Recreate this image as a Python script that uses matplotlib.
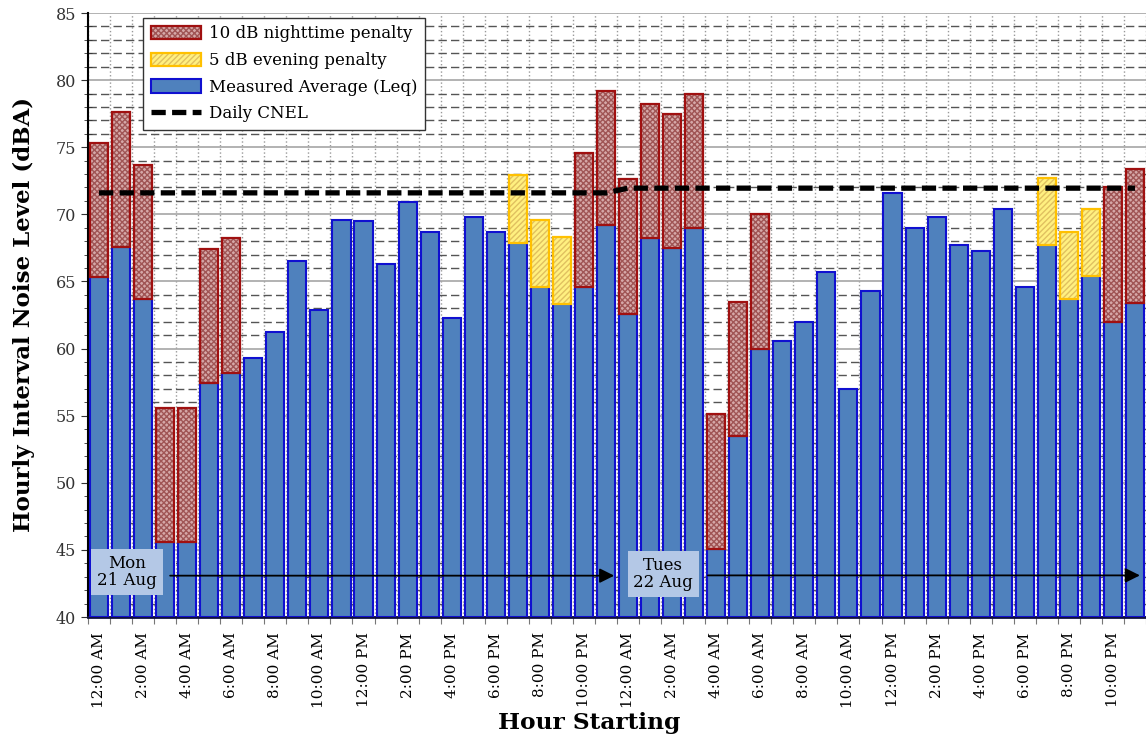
import matplotlib
matplotlib.use("Agg")
import matplotlib.pyplot as plt
import numpy as np
from matplotlib.patches import Patch
from matplotlib.lines import Line2D

# hourly Leq, Mon 21 Aug 00:00 through Tue 22 Aug 23:00
leq = [65.3, 67.6, 63.7, 45.6, 45.6, 57.4, 58.2, 59.3, 61.2, 66.5, 62.9, 69.6,
       69.5, 66.3, 70.9, 68.7, 62.3, 69.8, 68.7, 67.9, 64.6, 63.3, 64.6, 69.2,
       62.6, 68.2, 67.5, 69.0, 45.1, 53.5, 60.0, 60.6, 62.0, 65.7, 57.0, 64.3,
       71.6, 69.0, 69.8, 67.7, 67.3, 70.4, 64.6, 67.7, 63.7, 65.4, 62.0, 63.4]

# CNEL weighting per hour of the day
night_pen_day = [10, 10, 10, 10, 10, 10, 10, 0, 0, 0, 0, 0,
                 0, 0, 0, 0, 0, 0, 0, 0, 0, 0, 10, 10]
even_pen_day = [0, 0, 0, 0, 0, 0, 0, 0, 0, 0, 0, 0,
                0, 0, 0, 0, 0, 0, 0, 5, 5, 5, 0, 0]
night_pen = night_pen_day * 2
even_pen = even_pen_day * 2

cnel_daily = [71.6, 71.95]
cnel = [cnel_daily[0]] * 24 + [cnel_daily[1]] * 24

hour_labels = ["12:00 AM", "2:00 AM", "4:00 AM", "6:00 AM", "8:00 AM", "10:00 AM",
               "12:00 PM", "2:00 PM", "4:00 PM", "6:00 PM", "8:00 PM", "10:00 PM"]

plt.rcParams['font.family'] = ['DejaVu Serif']
plt.rcParams['hatch.linewidth'] = 1.0

fig = plt.figure(figsize=(11.46, 7.42), dpi=100)
ax = fig.add_axes([88 / 1146, 1 - 617 / 742, 1 - 88 / 1146, (617 - 13) / 742])

x = np.arange(len(leq))
leq = np.array(leq)
night_pen = np.array(night_pen)
even_pen = np.array(even_pen)
w = 0.82

blue_face, blue_edge = '#4F81BD', '#1010D0'
red_face, red_hatch, red_edge = '#D6A8A8', '#A05555', '#A01010'
yel_face, yel_hatch, yel_edge = '#FFF080', '#E0C060', '#FFC000'

ax.bar(x, leq - 40, bottom=40, width=w, color=blue_face, edgecolor=blue_edge,
       linewidth=1.5, zorder=3)

# penalty segments stacked on top of the measured level
n = night_pen > 0
ax.bar(x[n], night_pen[n], bottom=leq[n], width=w, color=red_face,
       edgecolor=red_hatch, hatch='xxxxxx', linewidth=0, zorder=3)
ax.bar(x[n], night_pen[n], bottom=leq[n], width=w, color='none',
       edgecolor=red_edge, linewidth=1.6, zorder=3)
e = even_pen > 0
ax.bar(x[e], even_pen[e], bottom=leq[e], width=w, color=yel_face,
       edgecolor=yel_hatch, hatch='//////', linewidth=0, zorder=3)
ax.bar(x[e], even_pen[e], bottom=leq[e], width=w, color='none',
       edgecolor=yel_edge, linewidth=1.6, zorder=3)

ax.plot(x, cnel, color='black', lw=3.8, dashes=(2.7, 1.2), zorder=4)

ax.set_xlim(-0.5, 47.5)
ax.set_ylim(40, 85)

ax.set_yticks(np.arange(40, 86, 5))
ax.set_yticks(np.arange(40, 86, 1), minor=True)
ax.set_xticks(np.arange(-0.5, 48, 1))
ax.set_xticklabels([])
ax.set_xticks(x, minor=True)
ax.set_xticklabels([hour_labels[(i % 24) // 2] if i % 2 == 0 else '' for i in x],
                   minor=True, rotation=90, fontsize=11)
ax.tick_params(axis='y', which='major', labelsize=11.5, direction='out', length=5,
               colors='#333333')
ax.tick_params(axis='y', which='minor', direction='inout', length=6, color='#333333')
ax.tick_params(axis='x', which='major', direction='out', length=5, color='#777777')
ax.tick_params(axis='x', which='minor', direction='in', length=3, pad=11)

ax.grid(which='major', axis='y', color='#A6A6A6', lw=1.2, zorder=0)
ax.grid(which='minor', axis='y', color='#555555', lw=1, dashes=(6, 3), zorder=0)
ax.grid(which='major', axis='x', color='#999999', lw=1, ls=':', zorder=0)
ax.set_axisbelow(True)

for s in ['top', 'right']:
    ax.spines[s].set_visible(False)
ax.spines['left'].set_linewidth(1.5)
ax.spines['bottom'].set_color('#101040')
ax.spines['bottom'].set_linewidth(2)

ax.set_ylabel('Hourly Interval Noise Level (dBA)', fontsize=16.5, fontweight='bold')
ax.yaxis.set_label_coords(-0.05, 0.5)
ax.set_xlabel('Hour Starting', fontsize=16.8, fontweight='bold')
ax.xaxis.set_label_coords((589 - 88) / 1058, -0.157)

# day markers
box = dict(boxstyle='square,pad=0.35', facecolor='#B4C8E6', edgecolor='none')
ax.annotate('', xy=(23.5, 43.08), xytext=(3.1, 43.08), zorder=5,
            arrowprops=dict(arrowstyle='-|>', color='black', lw=1.3, mutation_scale=22))
ax.annotate('', xy=(47.35, 43.1), xytext=(27.5, 43.1), zorder=5,
            arrowprops=dict(arrowstyle='-|>', color='black', lw=1.3, mutation_scale=22))
ax.text(1.27, 43.35, 'Mon\n21 Aug', ha='center', va='center', fontsize=12,
        linespacing=1.05, bbox=box, zorder=6)
ax.text(25.6, 43.2, 'Tues\n22 Aug', ha='center', va='center', fontsize=12,
        linespacing=1.05, bbox=box, zorder=6)

handles = [
    (Patch(facecolor=red_face, edgecolor=red_hatch, hatch='xxxxxx', lw=0),
     Patch(facecolor='none', edgecolor=red_edge, lw=1.6)),
    (Patch(facecolor=yel_face, edgecolor=yel_hatch, hatch='//////', lw=0),
     Patch(facecolor='none', edgecolor=yel_edge, lw=1.6)),
    Patch(facecolor=blue_face, edgecolor=blue_edge, lw=1.5),
    Line2D([], [], color='black', lw=3.8, dashes=(2.7, 1.2)),
]
labels = ['10 dB nighttime penalty', '5 dB evening penalty',
          'Measured Average (Leq)', 'Daily CNEL']
leg = ax.legend(handles, labels, loc='upper left', bbox_to_anchor=(0.052, 0.992),
                borderaxespad=0, fontsize=12, fancybox=False, framealpha=1,
                edgecolor='#333333', handlelength=3.0, handleheight=0.85,
                labelspacing=0.58, borderpad=0.45, handletextpad=0.5)
leg.get_frame().set_linewidth(1)
leg.set_zorder(10)

fig.savefig('out.png', dpi=100)
